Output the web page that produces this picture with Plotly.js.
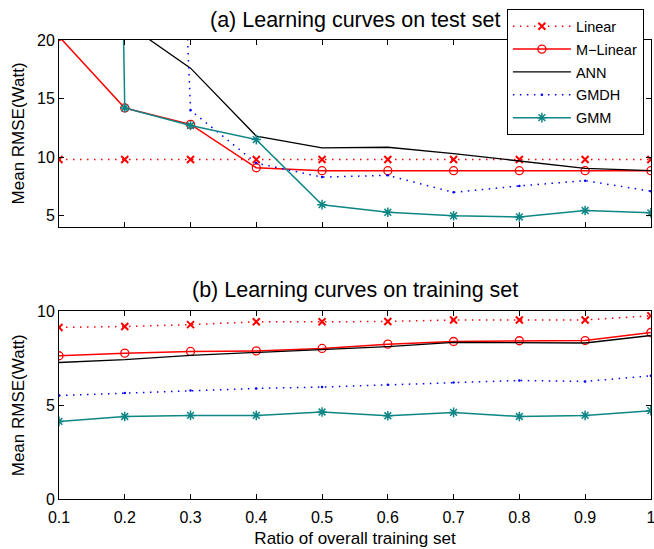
<!DOCTYPE html>
<html>
<head>
<meta charset="utf-8">
<script src="https://cdn.plot.ly/plotly-3.0.1.min.js"></script>
<style>html,body{margin:0;padding:0;background:#fff;}#chart{width:654px;height:549px;}</style>
</head>
<body>
<div id="chart"></div>
<script>
// Ratio of overall training set
const ratio = [0.1, 0.2, 0.3, 0.4, 0.5, 0.6, 0.7, 0.8, 0.9, 1.0];
const xTickText = ["0.1", "0.2", "0.3", "0.4", "0.5", "0.6", "0.7", "0.8", "0.9", "1"];
const seriesNames = ["Linear", "M\u2212Linear", "ANN", "GMDH", "GMM"];

// (a) test set (values above 20 are off the visible axis)
const linearTest  = [9.8, 9.8, 9.8, 9.8, 9.8, 9.8, 9.8, 9.8, 9.8, 9.8];
const mlinearTest = [20.3, 14.2, 12.8, 9.1, 8.85, 8.85, 8.85, 8.85, 8.85, 8.85];
const annTest     = [24, 21.5, 17.6, 11.8, 10.8, 10.85, 10.3, 9.7, 9.05, 8.85];
const gmdhTest    = [300, 150, 14.0, 9.5, 8.3, 8.45, 7.0, 7.55, 8.0, 7.1];
const gmmTest     = [350, 14.2, 12.7, 11.5, 5.95, 5.3, 5.0, 4.9, 5.45, 5.25];

// (b) training set
const linearTrain  = [9.15, 9.2, 9.3, 9.45, 9.45, 9.47, 9.55, 9.55, 9.55, 9.77];
const mlinearTrain = [7.64, 7.78, 7.87, 7.9, 8.03, 8.26, 8.4, 8.44, 8.45, 8.88];
const annTrain     = [7.28, 7.43, 7.66, 7.82, 7.96, 8.13, 8.35, 8.32, 8.32, 8.72];
const gmdhTrain    = [5.52, 5.65, 5.79, 5.9, 5.97, 6.09, 6.22, 6.32, 6.27, 6.57];
const gmmTrain     = [4.14, 4.4, 4.46, 4.46, 4.64, 4.44, 4.62, 4.4, 4.46, 4.71];

const yTicksTop = [5, 10, 15, 20];
const yTicksBottom = [0, 5, 10];

const RED = "#ff0000", BLACK = "#000000", BLUE = "#0000ff", TEAL = "#0e8686";
const styles = [
  {line: {color: RED, width: 1.5, dash: "1.5px,5.5px"}, marker: {symbol: "x-thin-open", size: 7, color: RED, line: {color: RED, width: 2}}, mode: "lines+markers"},
  {line: {color: RED, width: 1.5}, marker: {symbol: "circle-open", size: 8, color: RED, line: {color: RED, width: 1.3}}, mode: "lines+markers"},
  {line: {color: BLACK, width: 1.3}, mode: "lines"},
  {line: {color: BLUE, width: 1.5, dash: "1.5px,5.5px"}, marker: {symbol: "circle", size: 2.5, color: BLUE}, mode: "lines+markers"},
  {line: {color: TEAL, width: 1.5}, marker: {symbol: "asterisk-open", size: 8, color: TEAL, line: {color: TEAL, width: 1.5}}, mode: "lines+markers"}
];

const testSets = [linearTest, mlinearTest, annTest, gmdhTest, gmmTest];
const trainSets = [linearTrain, mlinearTrain, annTrain, gmdhTrain, gmmTrain];

const traces = [];
testSets.forEach((ys, i) => {
  traces.push(Object.assign({type: "scatter", x: ratio, y: ys, name: seriesNames[i], legendgroup: "g" + i, xaxis: "x", yaxis: "y", showlegend: true, cliponaxis: true}, styles[i]));
});
trainSets.forEach((ys, i) => {
  traces.push(Object.assign({type: "scatter", x: ratio, y: ys, name: seriesNames[i], legendgroup: "g" + i, xaxis: "x2", yaxis: "y2", showlegend: false, cliponaxis: true}, styles[i]));
});

const FONT = "Liberation Sans, Arial, Helvetica, sans-serif";
const axisCommon = {
  showline: true, linecolor: "#000", linewidth: 1, mirror: "ticks",
  ticks: "inside", ticklen: 5, tickcolor: "#000", tickwidth: 1,
  showgrid: false, zeroline: false, tickfont: {family: FONT, size: 16, color: "#000"},
  ticklabeloverflow: "allow"
};

const layout = {
  width: 654, height: 549,
  margin: {l: 59, r: 3, t: 40, b: 50},
  paper_bgcolor: "#fff", plot_bgcolor: "#fff",
  font: {family: FONT, color: "#000"},
  showlegend: true,
  xaxis: Object.assign({}, axisCommon, {domain: [0, 1], range: [0.1, 1.0002], tickvals: ratio, ticktext: xTickText, showticklabels: false, anchor: "y"}),
  yaxis: Object.assign({}, axisCommon, {domain: [0.593, 1], range: [4.06, 20], tickvals: yTicksTop, anchor: "x",
    title: {text: "Mean RMSE(Watt)", font: {family: FONT, size: 17}, standoff: 8}}),
  xaxis2: Object.assign({}, axisCommon, {domain: [0, 1], range: [0.1, 1.0002], tickvals: ratio, ticktext: xTickText, anchor: "y2",
    ticklabelstandoff: 4,
    title: {text: "Ratio of overall training set", font: {family: FONT, size: 17}, standoff: 6}}),
  yaxis2: Object.assign({}, axisCommon, {domain: [0, 0.4085], range: [0, 10], tickvals: yTicksBottom, anchor: "x2",
    title: {text: "Mean RMSE(Watt)", font: {family: FONT, size: 17}, standoff: 8}}),
  legend: {
    x: 0.988, y: 1.0668, xanchor: "right", yanchor: "top",
    bgcolor: "#fff", bordercolor: "#000", borderwidth: 1,
    font: {family: FONT, size: 14.5, color: "#000"}, itemwidth: 58,
    tracegroupgap: 1, traceorder: "grouped"
  },
  annotations: [
    {text: "(a) Learning curves on test set", xref: "paper", yref: "paper", x: 0.5, y: 1.0435, xanchor: "center", yanchor: "middle", showarrow: false, font: {family: FONT, size: 21.5, color: "#000"}},
    {text: "(b) Learning curves on training set", xref: "paper", yref: "paper", x: 0.5, y: 0.4557, xanchor: "center", yanchor: "middle", showarrow: false, font: {family: FONT, size: 21.5, color: "#000"}}
  ]
};

Plotly.newPlot("chart", traces, layout, {displayModeBar: false, staticPlot: true});
</script>
</body>
</html>
